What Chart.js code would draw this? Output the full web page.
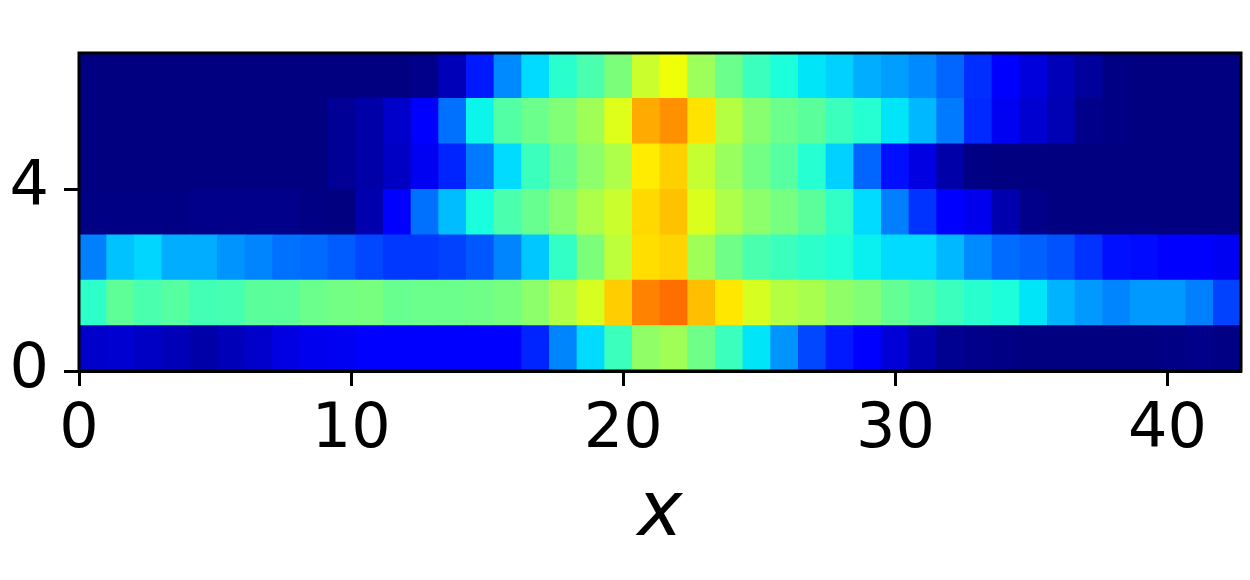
<!DOCTYPE html>
<html>
<head>
<meta charset="utf-8">
<script src="https://cdn.jsdelivr.net/npm/chart.js@4"></script>
<style>
  html, body { margin: 0; padding: 0; background: #fff; }
  #wrap { width: 1250px; height: 580px; }
</style>
</head>
<body>
<div id="wrap"><canvas id="heat" width="1250" height="580"></canvas></div>
<script>
// cell values on the 0-1 jet scale (row0 is the bottom row)
const row0 = [.065,.07,.06,.05,.035,.05,.065,.085,.095,.10,.11,.11,.115,.12,.12,.115,.16,.255,.34,.42,.525,.545,.485,.42,.35,.27,.195,.15,.12,.075,.04,.015,.01,.005,0,0,0,0,0,.005,.01,.005];
const row1 = [.405,.465,.44,.455,.43,.435,.46,.46,.48,.49,.495,.475,.48,.48,.485,.495,.52,.565,.61,.693,.772,.793,.708,.665,.61,.57,.555,.525,.505,.47,.45,.42,.40,.385,.35,.30,.275,.255,.275,.275,.25,.19];
const row2 = [.25,.315,.335,.295,.295,.27,.255,.235,.23,.215,.195,.18,.18,.19,.21,.255,.32,.41,.50,.58,.675,.685,.545,.485,.44,.42,.405,.39,.36,.34,.34,.305,.26,.23,.22,.205,.175,.14,.135,.115,.11,.10];
const row3 = [.005,.005,.005,.005,.01,.01,.01,.01,.005,0,.04,.11,.235,.31,.38,.44,.475,.515,.56,.595,.68,.705,.615,.56,.52,.495,.46,.41,.34,.25,.175,.11,.095,.04,.01,0,0,0,0,0,0,0];
const row4 = [0,0,0,0,0,0,0,0,0,.02,.035,.06,.10,.16,.245,.34,.42,.475,.52,.56,.66,.69,.59,.535,.49,.455,.395,.33,.225,.14,.085,.035,.005,0,0,0,0,0,0,0,0,0];
const row5 = [0,0,0,0,0,0,0,0,0,.02,.035,.065,.11,.235,.365,.45,.48,.505,.545,.62,.73,.757,.67,.57,.515,.48,.46,.42,.395,.35,.305,.245,.165,.10,.07,.045,.01,.005,0,0,0,0];
const row6 = [0,0,0,0,0,0,0,0,0,0,0,0,.01,.05,.15,.26,.34,.40,.44,.50,.595,.64,.54,.48,.42,.385,.35,.33,.295,.28,.26,.225,.17,.11,.08,.05,.025,.005,0,0,0,0];
const rows = [row0, row1, row2, row3, row4, row5, row6];

const xMax = 42.7;
const yMax = 7;
const xTickStep = 10;
const yTickStep = 4;
const xLabel = 'x';

const cellWidth = xMax / row0.length;
const fontName = '"DejaVu Sans"';

// same breakpoints as matplotlib's jet
function jet(v) {
  const ramp = (pts) => {
    for (let i = 1; i < pts.length; i++) {
      if (v <= pts[i][0]) {
        const t = (v - pts[i - 1][0]) / (pts[i][0] - pts[i - 1][0]);
        return Math.round(255 * (pts[i - 1][1] + t * (pts[i][1] - pts[i - 1][1])));
      }
    }
    return Math.round(255 * pts[pts.length - 1][1]);
  };
  const r = ramp([[0, 0], [.35, 0], [.66, 1], [.89, 1], [1, .5]]);
  const g = ramp([[0, 0], [.125, 0], [.375, 1], [.64, 1], [.91, 0], [1, 0]]);
  const b = ramp([[0, .5], [.11, 1], [.34, 1], [.65, 0], [1, 0]]);
  return `rgb(${r},${g},${b})`;
}

const datasets = rows.map((vals, r) => ({
  data: vals.map((v, i) => ({ x: (i + 0.5) * cellWidth, y: [r, r + 1] })),
  backgroundColor: vals.map(jet),
  borderWidth: 0,
  grouped: false,
  barPercentage: 1,
  categoryPercentage: 1
}));

// the frame round the plot
const framePlugin = {
  id: 'frame',
  afterDraw(chart) {
    const a = chart.chartArea;
    const ctx = chart.ctx;
    ctx.save();
    ctx.strokeStyle = '#000';
    ctx.lineWidth = 3;
    ctx.strokeRect(a.left, a.top, a.right - a.left, a.bottom - a.top);
    ctx.restore();
  }
};

new Chart(document.getElementById('heat'), {
  type: 'bar',
  data: { datasets },
  plugins: [framePlugin],
  options: {
    responsive: false,
    animation: false,
    layout: { padding: { top: 53, right: 9, left: 0, bottom: 0 } },
    plugins: { legend: { display: false }, tooltip: { enabled: false } },
    scales: {
      x: {
        type: 'linear',
        min: 0,
        max: xMax,
        offset: false,
        afterFit(scale) { scale.height = 209; },
        grid: { offset: false, drawOnChartArea: false, color: '#000', tickLength: 15, tickWidth: 3 },
        border: { color: '#000', width: 3 },
        ticks: {
          stepSize: xTickStep,
          includeBounds: false,
          maxRotation: 0,
          color: '#000',
          padding: 8,
          font: { family: fontName, size: 62 }
        },
        title: {
          display: true,
          text: xLabel,
          color: '#000',
          padding: { top: 0, bottom: 19 },
          font: { family: fontName, size: 76, style: 'italic', weight: 'normal' }
        }
      },
      y: {
        type: 'linear',
        min: 0,
        max: yMax,
        afterFit(scale) { scale.width = 79; },
        grid: { drawOnChartArea: false, color: '#000', tickLength: 15, tickWidth: 3 },
        border: { color: '#000', width: 3 },
        ticks: {
          stepSize: yTickStep,
          includeBounds: false,
          color: '#000',
          padding: 15,
          font: { family: fontName, size: 62 }
        }
      }
    }
  }
});
</script>
</body>
</html>
